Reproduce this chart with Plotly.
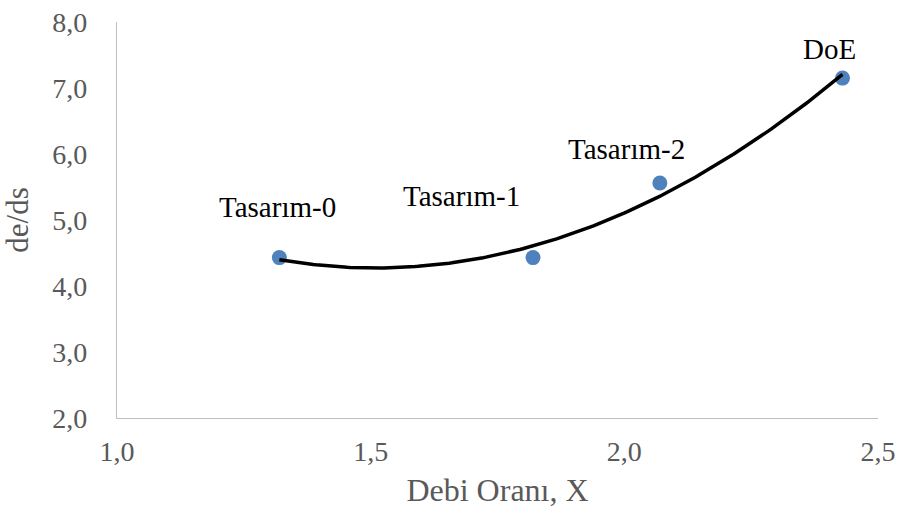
import numpy as np
import plotly.graph_objects as go

# Data
x_vals = [1.32, 1.82, 2.07, 2.43]
y_vals = [4.43, 4.43, 5.56, 7.15]
point_labels = ["Tasarım-0", "Tasarım-1", "Tasarım-2", "DoE"]
label_dx = [-2, -72, -33, -13]
label_dy = [51, 62, 34, 29]
x_ticks = [1.0, 1.5, 2.0, 2.5]
y_ticks = [2.0, 3.0, 4.0, 5.0, 6.0, 7.0, 8.0]

# Polynomial (order 2) trendline, as in the original spreadsheet chart
coef = np.polyfit(x_vals, y_vals, 2)
xt = np.linspace(min(x_vals), max(x_vals), 200)
yt = np.polyval(coef, xt)

FONT = "Liberation Serif"
GREY = "#595959"

fig = go.Figure()
fig.add_trace(go.Scatter(
    x=x_vals, y=y_vals, mode="markers",
    marker=dict(size=15, color="#4F81BD"),
    showlegend=False, hoverinfo="x+y",
))
fig.add_trace(go.Scatter(
    x=xt, y=yt, mode="lines",
    line=dict(color="black", width=3.5),
    showlegend=False, hoverinfo="skip",
))

for xv, yv, lab, dx, dy in zip(x_vals, y_vals, point_labels, label_dx, label_dy):
    fig.add_annotation(
        x=xv, y=yv, text=lab, showarrow=False,
        xshift=dx, yshift=dy,
        font=dict(family=FONT, size=29, color="black"),
    )

fig.update_layout(
    width=901, height=512,
    margin=dict(l=117, r=23, t=22, b=94, autoexpand=False),
    paper_bgcolor="white", plot_bgcolor="white",
    separators=",.",
    font=dict(family=FONT, color=GREY),
)
fig.update_xaxes(
    range=[1.0, 2.5], tickvals=x_ticks, tickformat=".1f",
    showgrid=False, zeroline=False, automargin=False,
    showline=True, linecolor="#BFBFBF", linewidth=1.3,
    ticks="", ticklabelstandoff=8, ticklabeloverflow="allow",
    tickfont=dict(family=FONT, size=28, color=GREY),
    title=dict(text="Debi Oranı, X", font=dict(family=FONT, size=32, color=GREY), standoff=12),
)
fig.update_yaxes(
    range=[2.0, 8.0], tickvals=y_ticks, tickformat=".1f",
    showgrid=False, zeroline=False, automargin=False,
    showline=True, linecolor="#BFBFBF", linewidth=1.3,
    ticks="", ticklabelstandoff=23, ticklabeloverflow="allow",
    tickfont=dict(family=FONT, size=28, color=GREY),
    title=dict(text="de/ds", font=dict(family=FONT, size=31, color=GREY), standoff=15),
)

fig.write_html(
    "out.html",
    config={"displayModeBar": False},
    post_script="document.body.style.margin='0';document.body.style.overflow='hidden';",
)
